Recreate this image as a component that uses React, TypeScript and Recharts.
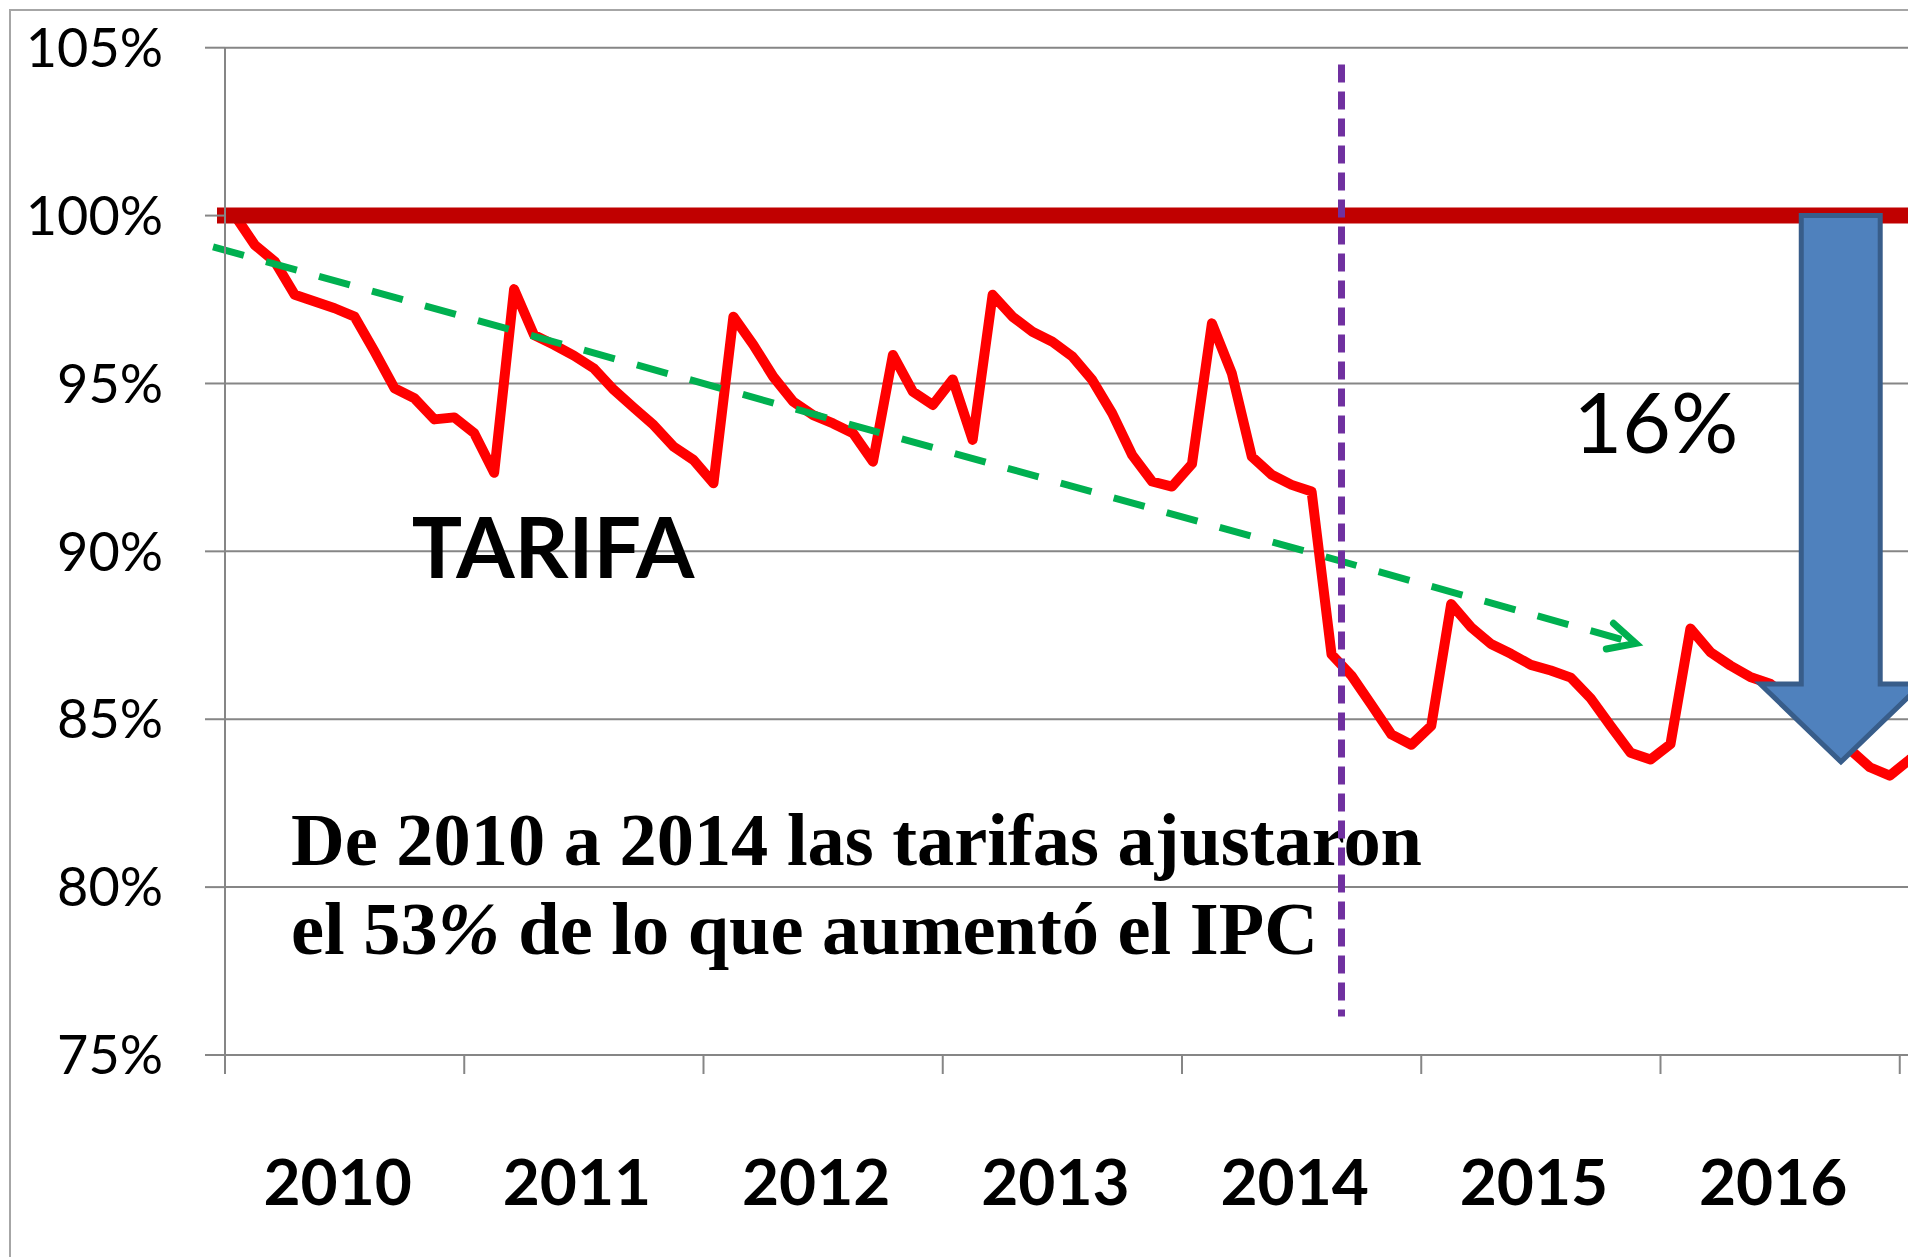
import { LineChart, Line, XAxis, YAxis, CartesianGrid, ReferenceLine, Customized } from 'recharts'

// tariff index, monthly from Jan 2010 (Jan 2010 = 100%)
const tarifa = [
  1.0, 0.9912, 0.9863, 0.9764, 0.9744, 0.9724, 0.9699, 0.9595, 0.9486, 0.9456, 0.9393, 0.9399, // 2010
  0.9352, 0.9234, 0.9781, 0.9644, 0.9615, 0.9583, 0.9545, 0.9481, 0.9428, 0.9376, 0.9312, 0.9272, // 2011
  0.9203, 0.9699, 0.9615, 0.952, 0.9446, 0.9406, 0.9381, 0.9352, 0.9267, 0.9585, 0.9476, 0.9436, // 2012
  0.9512, 0.9332, 0.9764, 0.9699, 0.9654, 0.9624, 0.958, 0.951, 0.9411, 0.9287, 0.9208, 0.9193, // 2013
  0.926, 0.9679, 0.953, 0.9282, 0.9228, 0.9198, 0.9178, 0.8693, 0.863, 0.8543, 0.8455, 0.8424, // 2014
  0.848, 0.8843, 0.8774, 0.8724, 0.8695, 0.8662, 0.8645, 0.8624, 0.8562, 0.848, 0.84, 0.838, // 2015
  0.8426, 0.877, 0.87, 0.866, 0.8626, 0.8606, 0.856, 0.85, 0.845, 0.841, 0.8357, 0.8332, // 2016
  0.838, // 2017
]

const years = ['2010', '2011', '2012', '2013', '2014', '2015', '2016']
const yTicks = [0.75, 0.8, 0.85, 0.9, 0.95, 1.0, 1.05]

// trend line (green), month index / value
const trendStart = { m: -1.1, v: 0.9907 }
const trendEnd = { m: 70.26, v: 0.8726 }

// vertical marker (purple)
const cutMonth = 55.5
const cutTop = 1.045
const cutBottom = 0.7615

// big blue arrow: 100% down to ~84%
const arrow = { left: 76.5, right: 84.6, shaftLeft: 78.56, shaftRight: 82.52, top: 1.0, head: 0.8605, tip: 0.8373 }

const data = tarifa.map((v, i) => ({ m: i, tarifa: v }))

const boundaryTicks = years.map((_, k) => 12 * k - 0.5).concat([83.5])
const labelTicks = years.map((_, k) => 12 * k + 5.15)

const GRID = '#868686'

function YearTick(props: any) {
  const { x, y, payload } = props
  const idx = labelTicks.indexOf(payload.value)
  if (idx >= 0) {
    return (
      <text x={x} y={y + 150} textAnchor="middle" fontFamily="Lato" fontWeight={700} fontSize={64} fill="#000">
        {years[idx]}
      </text>
    )
  }
  return <line x1={x} x2={x} y1={y} y2={y + 19} stroke={GRID} strokeWidth={2} />
}

function Annotations() {
  return (
    <g>
      <text x={553} y={578} textAnchor="middle" fontFamily="Lato" fontWeight={700} fontSize={84} fill="#000">
        TARIFA
      </text>
      <text x={1656} y={453} textAnchor="middle" fontFamily="Lato" fontSize={84} fill="#000">
        16%
      </text>
      <text fontFamily="'Liberation Serif'" fontWeight={700} fontSize={74.4} fill="#000">
        <tspan x={291} y={865}>De 2010 a 2014 las tarifas ajustaron</tspan>
        <tspan x={291} y={954}>el 53</tspan>
        <tspan fontStyle="italic">%</tspan>
        <tspan> de lo que aumentó el IPC</tspan>
      </text>
    </g>
  )
}

function TrendArrow(p: any) {
  const { x1, y1, x2, y2 } = p
  const ang = Math.atan2(y2 - y1, x2 - x1)
  const len = 30
  const spread = 0.46
  const a1 = [x2 - len * Math.cos(ang - spread), y2 - len * Math.sin(ang - spread)]
  const a2 = [x2 - len * Math.cos(ang + spread), y2 - len * Math.sin(ang + spread)]
  return (
    <g>
      <line x1={x1} y1={y1} x2={x2} y2={y2} stroke="#00B050" strokeWidth={7} strokeDasharray="32 23" />
      <path
        d={`M${a1[0]},${a1[1]} L${x2},${y2} L${a2[0]},${a2[1]}`}
        fill="none"
        stroke="#00B050"
        strokeWidth={7}
        strokeLinecap="round"
      />
    </g>
  )
}

// segment runs from (left, top) to (right, tip); the arrow fills that box
function ArrowShape(p: any) {
  const { x1, y1, x2, y2 } = p
  const fx = (m: number) => x1 + ((m - arrow.left) / (arrow.right - arrow.left)) * (x2 - x1)
  const fy = (v: number) => y1 + ((arrow.top - v) / (arrow.top - arrow.tip)) * (y2 - y1)
  const d = [
    `M${fx(arrow.shaftLeft)},${y1}`,
    `L${fx(arrow.shaftRight)},${y1}`,
    `L${fx(arrow.shaftRight)},${fy(arrow.head)}`,
    `L${x2},${fy(arrow.head)}`,
    `L${(x1 + x2) / 2},${y2}`,
    `L${x1},${fy(arrow.head)}`,
    `L${fx(arrow.shaftLeft)},${fy(arrow.head)}`,
    'Z',
  ].join(' ')
  return <path d={d} fill="#4F81BD" stroke="#385D8A" strokeWidth={5} />
}

export default function App() {
  return (
    <div style={{ position: 'fixed', left: 0, top: 0, width: 1908, height: 1257, overflow: 'hidden', background: '#fff' }}>
      <div
        style={{
          position: 'absolute',
          left: 9,
          top: 9,
          width: 2000,
          height: 1400,
          borderLeft: '2px solid #A6A6A6',
          borderTop: '2px solid #A6A6A6',
        }}
      />
      <div style={{ position: 'absolute', left: 0, top: 0 }}>
        <LineChart width={2139} height={1257} data={data} margin={{ top: 47.7, right: 0, bottom: 0, left: 0 }}>
          <CartesianGrid vertical={false} stroke={GRID} strokeWidth={2} />
          <XAxis
            dataKey="m"
            type="number"
            domain={[-0.5, 95.5]}
            allowDataOverflow
            ticks={[...boundaryTicks, ...labelTicks]}
            interval={0}
            tick={(props: any) => <YearTick {...props} />}
            tickLine={false}
            tickSize={0}
            tickMargin={0}
            height={202}
            axisLine={{ stroke: GRID, strokeWidth: 2 }}
          />
          <YAxis
            type="number"
            domain={[0.75, 1.05]}
            allowDataOverflow
            ticks={yTicks}
            interval={0}
            width={225}
            tickSize={20}
            tickMargin={42}
            tickFormatter={(v: number) => `${Math.round(v * 100)}%`}
            tick={{ fill: '#000', fontSize: 54, fontFamily: 'Lato' }}
            tickLine={{ stroke: GRID, strokeWidth: 2 }}
            axisLine={{ stroke: GRID, strokeWidth: 2 }}
          />
          <Customized component={Annotations} />
          <Line
            dataKey="tarifa"
            type="linear"
            stroke="#FF0000"
            strokeWidth={10}
            strokeLinejoin="round"
            strokeLinecap="round"
            dot={false}
            activeDot={false}
            isAnimationActive={false}
          />
          <ReferenceLine y={1} stroke="#C00000" strokeWidth={16} strokeLinecap="square" ifOverflow="visible" />
          <ReferenceLine
            segment={[
              { x: trendStart.m, y: trendStart.v },
              { x: trendEnd.m, y: trendEnd.v },
            ]}
            ifOverflow="visible"
            shape={(p: any) => <TrendArrow {...p} />}
          />
          <ReferenceLine
            segment={[
              { x: cutMonth, y: cutTop },
              { x: cutMonth, y: cutBottom },
            ]}
            stroke="#7030A0"
            strokeWidth={7}
            strokeDasharray="18 9"
            ifOverflow="visible"
          />
          <ReferenceLine
            segment={[
              { x: arrow.left, y: arrow.top },
              { x: arrow.right, y: arrow.tip },
            ]}
            ifOverflow="visible"
            shape={(p: any) => <ArrowShape {...p} />}
          />
        </LineChart>
      </div>
    </div>
  )
}
